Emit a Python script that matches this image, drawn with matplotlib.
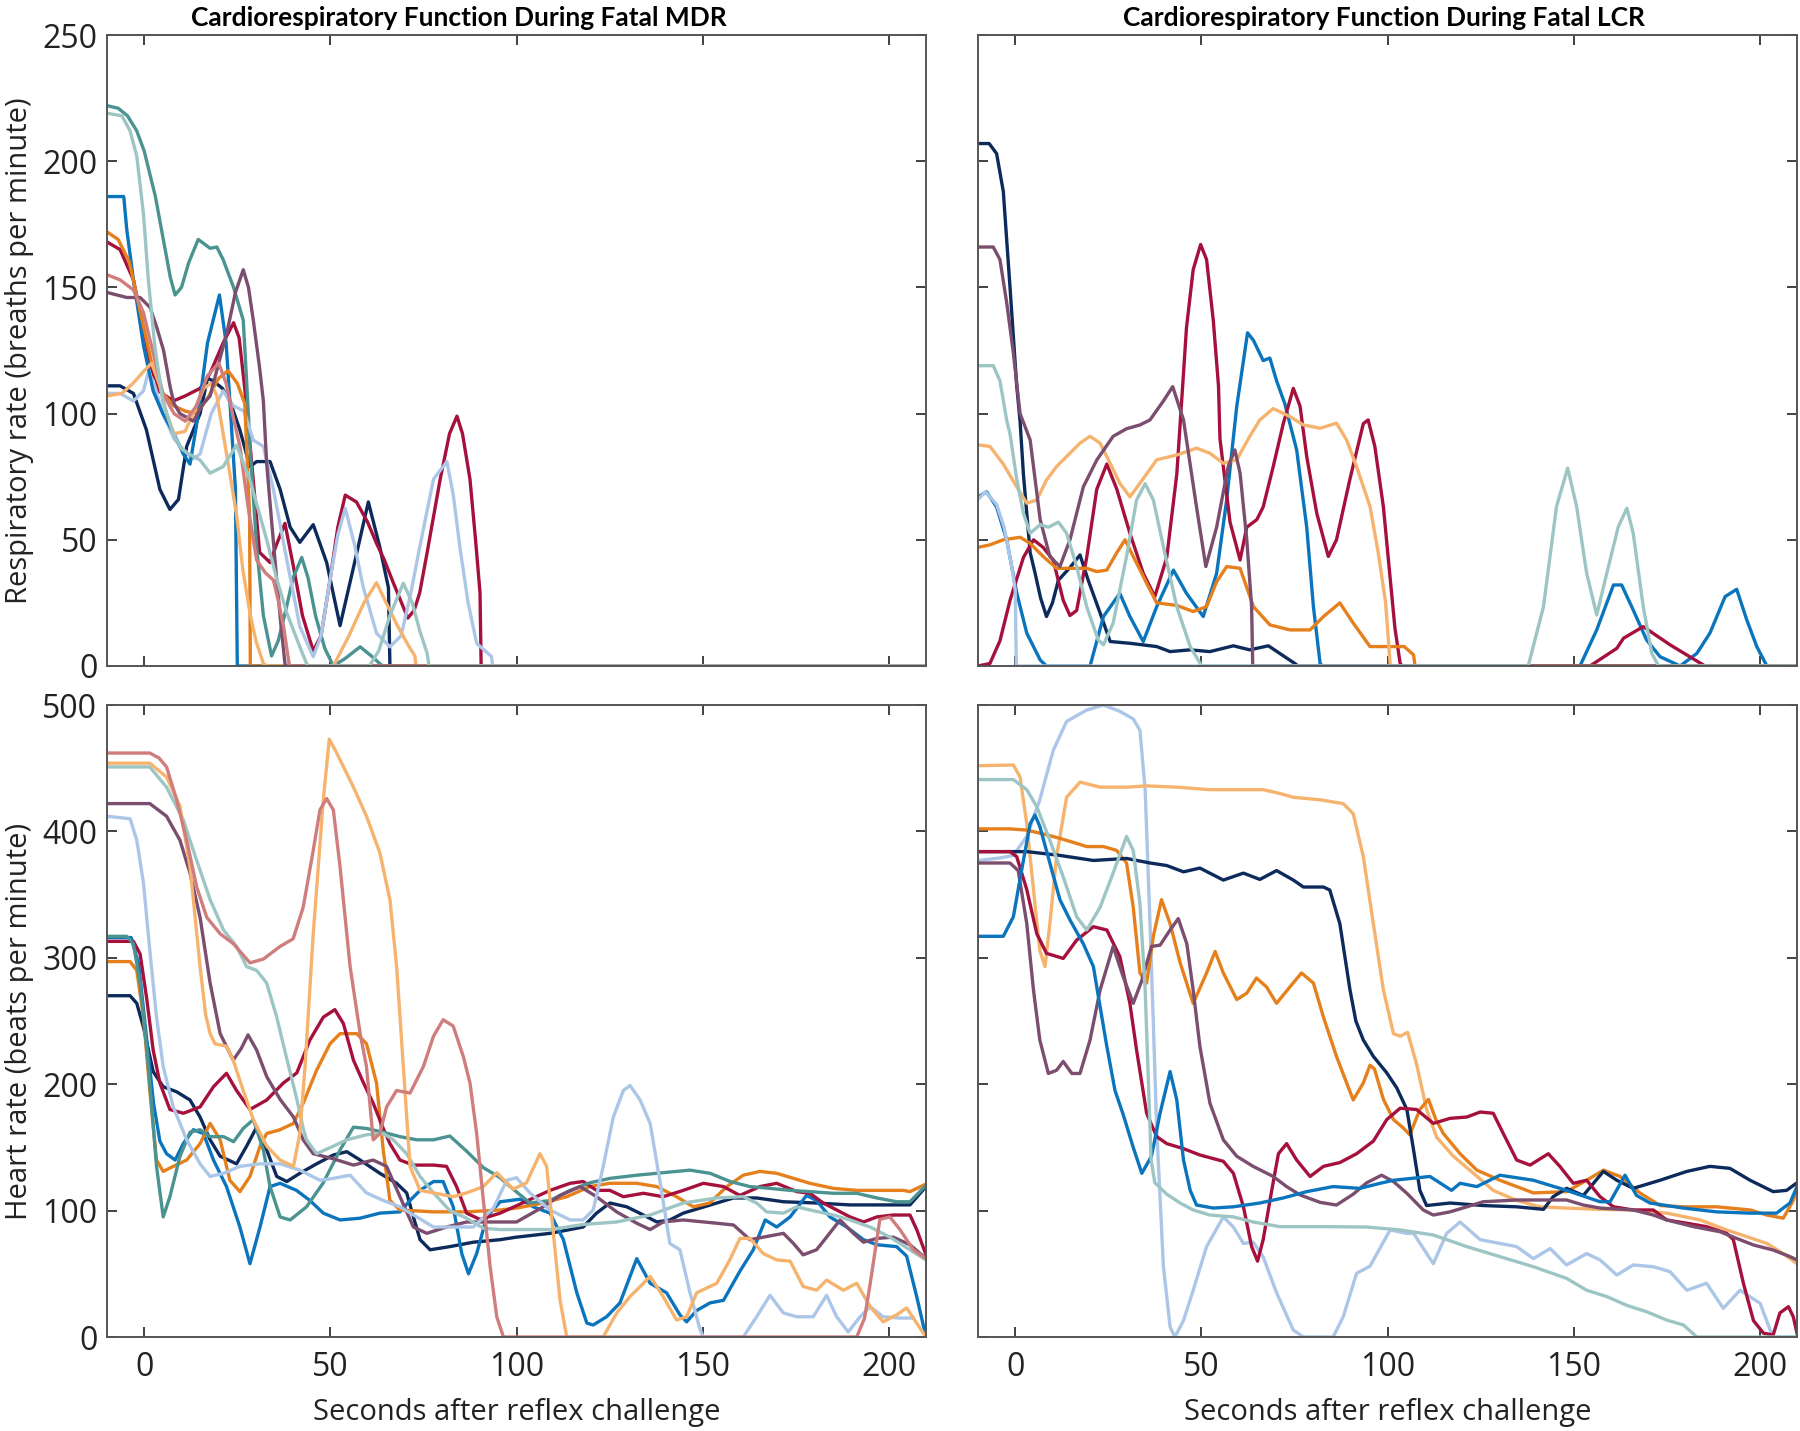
import matplotlib
matplotlib.use('Agg')
import matplotlib.pyplot as plt

plt.rcParams['font.family'] = ['Open Sans', 'DejaVu Sans']

## colours
NAVY = '#0c2a5b'
BLUE = '#0a75bd'
ORANGE = '#e5801c'
LTORANGE = '#f6b36e'
CRIMSON = '#a6103c'
MAUVE = '#7b4d6e'
TEAL = '#4a9391'
LTTEAL = '#9cc5c4'
LTBLUE = '#acc6e7'
ROSE = '#cf7d7d'

## MDR - respiratory rate (seconds, breaths/min)
mdr_rr_navy = [(-10,111),(-6.5,111),(-2.9,108),(0.6,93.5),(4.2,70),(6.9,62),(9.2,66),(11.4,87),(15,100),(17,114),(18.5,113),(21,110),(23,105),(25.7,93.5),(28.4,79),(30.2,81),(33.8,81),(36.5,70),(39.2,55),(41.8,49),(45.4,56),(49,41),(52.6,16),(56.2,39),(60.2,65),(63.3,47),(65.6,31),(66,0),(210,0)]
mdr_rr_crimson = [(-10,168),(-6.5,165),(-2.9,153),(-0.7,137),(1.6,120),(3.8,109),(7.8,105),(11,107),(15,110),(17.7,116),(21.2,128),(24,136),(25.5,130),(27,110),(28.9,80),(31,45),(33.8,41),(35.5,48),(37.8,56.5),(40,40),(42.5,20),(45.4,6),(47.5,12),(50,35),(52,55),(54,67.7),(57,65),(60,57),(62.4,48.6),(64.5,42),(66.9,33),(70.8,19),(72.5,22),(74,29),(76,45),(79.5,74),(82,92),(84,99),(85.5,92),(87.5,74),(89,50),(90.2,29),(90.5,0),(210,0)]
mdr_rr_teal = [(-10,222),(-7,221),(-4.5,218),(-2,212),(0,204),(3,186),(5,170),(7,154),(8.3,147),(10,150),(12,160),(14.5,169),(17.7,165.5),(19.5,166),(21.2,161),(24,150),(26.6,137),(27.5,113),(28.5,85),(30.2,47),(32,20),(34.2,4),(36,10),(38,22),(40,35),(42.3,43),(44,35),(46,20),(48.5,7),(50.8,0),(54,3),(58,7.6),(61,4),(64,0),(210,0)]
mdr_rr_ltblue = [(-10,108),(-6.5,108),(-2.9,105),(-0.2,109),(1,116),(2.4,113),(5,100),(8,90),(11,85),(13,82),(15,84),(18,100),(21.2,109),(24,103),(26.8,101),(29.3,89.5),(32,87),(34.7,70),(38.3,42),(41.8,15.6),(45.4,3.7),(47.5,12),(50,35),(52,52),(54,62.5),(56.5,48),(58.8,31.4),(62.4,13),(66,7.6),(69,12),(71.5,28),(74,47),(77.7,74),(81.3,81),(83,68),(84.8,47),(87,25),(89.3,9),(93.3,3.7),(93.6,0),(210,0)]
mdr_rr_blue = [(-10,186),(-5.5,186),(-4.7,173),(-2.9,153),(-0.2,127),(2.4,109),(5,100),(8,92),(10.5,84),(12.3,80),(14,95),(17,128),(20.2,147),(22,128),(23,105),(24.5,70),(25,0),(210,0)]
mdr_rr_orange = [(-10,172),(-7,169),(-4,160),(-1,140),(2,120),(5,108),(8,103),(11,101),(14,100),(17,106),(20,114),(22.5,117),(25,112),(27,104),(28.3,60),(28.5,0),(210,0)]
mdr_rr_ltorange = [(-10,107),(-6,108),(-3,112),(0,117),(2,120),(4,112),(6,100),(8,92),(11,93),(14,103),(16,110),(18,112),(19.5,107),(22,85),(24.8,60),(26.5,38),(28.4,21),(30,10),(32,1),(33,0),(50.8,0),(55,12),(59,25),(62.4,33),(65,25),(68,16),(71,8),(72.7,4),(73,0),(210,0)]
mdr_rr_mauve = [(-10,148),(-4.7,146),(-1.1,146),(1.6,142),(3.4,134),(5.2,125),(6.9,111),(8,104),(9.6,100),(13.2,97),(15.9,104),(17.7,107),(20,120),(22.2,132),(24.5,148),(26.6,157),(28,150),(29.3,137),(31,118),(32,105),(32.9,80),(34.3,56),(35.6,34),(36.8,15),(37.8,1),(38,0),(210,0)]
mdr_rr_rose = [(-10,155),(-6.5,153),(-2.9,149),(-0.2,140),(2.4,124),(5,108),(8,100),(11,97),(14,103),(17,115),(20,120),(22,112),(24,98),(25.7,87),(28,62),(30.2,42),(32.5,37),(34.7,34),(36,26),(37.5,15),(39,0),(210,0)]
mdr_rr_ltteal = [(-10,219),(-6,218),(-3.8,212),(-2,202),(-0.2,179),(1.1,153),(2.9,126),(5,105),(7.8,92),(10,86),(12,84),(15,81.6),(17.7,76.4),(21.2,79),(24.8,87.5),(28.4,73.7),(32.9,50),(35.5,35),(38.3,21),(41.8,7.6),(43.6,1),(44,0),(60.5,0),(63,6),(66,20),(69.6,32.8),(72,25),(74,14),(76,5),(76.5,0),(210,0)]

## LCR - respiratory rate
lcr_rr_navy = [(-10,207),(-7,207),(-5,203),(-3.2,188),(-1.4,150),(0.4,111),(1.3,97),(2.2,76),(4,45),(5.3,37),(6.8,27),(8.4,19.6),(10,25),(11.6,34),(14.7,39),(17.4,44),(19.6,34),(22.8,21),(25.5,9.7),(30.8,9),(38,7.7),(41.6,5.7),(47,6.4),(52.3,5.7),(58.6,8),(63,6.4),(68,8),(75.1,1),(76,0),(210,0)]
lcr_rr_blue = [(-10,67),(-7.7,69),(-5,63),(-2.3,50),(0.4,29),(3.1,13),(6.7,2.4),(8.4,0),(20.1,0),(23.7,19.6),(28.1,28.8),(30.8,19.6),(34.4,9.7),(38,23.5),(42.5,38),(46,28.8),(50.5,19.6),(54.1,36.7),(56.8,65.8),(59.5,102.8),(62.4,132),(64,129),(66.6,121),(68.4,122),(70.2,113),(72.4,104),(75.6,85.6),(78.3,55),(80.1,23.5),(81.9,1),(82.5,0),(151.7,0),(156.2,14.3),(160.7,32.1),(162.9,32.1),(166,22.2),(169.6,10.3),(173.2,3.7),(178.6,0),(183.1,5),(186.6,13),(190.7,27.5),(193.8,30.4),(196.5,18.3),(199.2,7.7),(201.9,0),(210,0)]
lcr_rr_crimson = [(-10,0),(-6.8,1),(-4.1,10),(-1.4,26),(2.2,43),(4.9,50),(7.5,47),(10.2,42),(12.9,26),(14.7,20),(16.5,22),(19.2,43),(21.9,70),(24.6,80),(27.3,70),(30.8,52.6),(34.4,36.7),(37.5,27.5),(40.7,43),(43.4,76),(45.2,116),(46,134),(47.8,157),(49.8,167),(51.4,161),(53.2,137),(54.6,111),(55,90),(57.7,57),(60.4,42),(62.2,55),(64.9,58),(66.6,63),(69.3,79),(72,96),(74.7,110),(76.5,103),(78.3,83),(81,60.5),(84.1,43.4),(86.3,50),(89.9,74),(93.5,96),(94.8,97.5),(96.6,87),(98.9,63),(100.7,35),(102,15),(103.4,1),(104,0),(154.4,0),(161.6,7),(163.4,11),(168.7,15.6),(175.9,8.4),(185.3,0),(210,0)]
lcr_rr_orange = [(-10,47),(-6.8,48),(-3.2,50),(1.3,51),(4,48.6),(7.5,43.4),(11.1,38.7),(14.7,38.7),(19.2,38.7),(21.9,37.4),(24.6,38),(27.2,44.7),(29.5,50),(31.7,43.4),(35.3,32.8),(38,25),(43.4,24),(47.8,21.6),(51.4,23.5),(54.1,33.4),(56.8,39.4),(60.4,38.7),(64,23.5),(68.4,16.3),(73.8,14.3),(79.2,14.3),(82.8,19.6),(87.2,25),(90.8,17),(95.3,7.7),(100.7,7.7),(104.5,7.7),(107,4.4),(107.4,0),(210,0)]
lcr_rr_ltorange = [(-10,87.6),(-6.8,87),(-3.2,80),(0.4,71),(3.1,64.5),(5.8,65.8),(8.4,73.7),(11.1,79),(13.8,83),(17.4,88.3),(20.1,91),(22.8,88.3),(25.5,80.3),(28.1,72.4),(30.8,67),(33.5,72.4),(38,81.7),(43.4,83.6),(48.7,86.3),(52.3,84.3),(55.9,80.3),(59.5,81.7),(63,91),(65.7,97.5),(69.3,102),(73.8,98.8),(77.4,95.5),(81.9,94.2),(86.3,96.2),(89,89.6),(91.7,79),(95.3,63.2),(97.5,45),(99.5,25),(100.7,1),(101,0),(210,0)]
lcr_rr_ltblue = [(-10,66),(-8,69),(-5,64),(-3,55),(-1,40),(0,30),(0.3,0),(135,0)]
lcr_rr_mauve = [(-10,166),(-5.9,166),(-4.1,161),(-2.3,144),(-0.5,124),(1.3,100),(4,89.6),(6.7,58),(9.3,43.4),(12,39.4),(14.7,50),(18.3,71),(21.9,81.6),(26.3,91),(29.9,94),(33.5,95.5),(36.2,97.5),(39.8,105),(42.3,110.7),(45.2,97.5),(48.7,63),(51.2,39.4),(54.1,55),(57.2,79),(59,85.6),(60.4,76.4),(62.2,50),(63.5,23.5),(63.8,0),(210,0)]
lcr_rr_ltteal = [(-10,119),(-5.9,119),(-4.1,113),(-2.3,97.4),(-1.4,92),(0.4,74),(2.2,60.5),(4,52.6),(6.7,56),(8.9,55),(11.6,57),(13.8,52.6),(16.5,39.4),(19.2,23.5),(22.3,10.3),(23.7,8.4),(26.3,17),(29.9,43.4),(32.6,65.8),(34.9,72.2),(37.1,65.8),(39.8,47.3),(43.4,23.5),(47,7.7),(50.1,0),(137.8,0),(141.9,23.5),(145.4,63.2),(148.4,78.4),(150.8,63.2),(153.5,36.7),(156.2,20.2),(158.9,36.7),(162,55.2),(164.3,62.5),(166,52.6),(168.7,23.5),(171,5),(172.8,0),(210,0)]

## MDR - heart rate (beats/min)
mdr_hr_navy = [(-10,270),(-3.8,270),(-2,264),(-0.2,245),(2.4,210),(5.1,198),(8.7,194),(12.3,187.5),(15,174),(17.7,156),(20.4,143),(24.8,137),(27.5,151),(30.2,166),(32.9,148),(35.6,127),(38.3,123),(41.8,129.5),(46.3,137),(50.8,144),(54.4,146.6),(58,140),(63.3,129.5),(67.8,121.6),(70.5,114),(72.3,95),(74.1,77),(76.8,69),(82.1,71.5),(88.4,75),(95.6,77),(100,79),(109,82),(117.9,87),(121.5,98),(125.1,106),(129.6,103),(134.1,96.5),(137.7,91),(141.2,92.6),(144.8,98),(149.3,102),(153.8,106),(158.3,110),(164.5,110),(171.7,107),(180.6,106),(189.6,104.5),(198.5,104.5),(205.7,104.5),(210,119)]
mdr_hr_blue = [(-10,316),(-3.5,316),(-1.5,295),(0.5,240),(2.5,185),(4.2,155),(6,145),(8.3,140),(10.5,153),(13.2,164),(15.9,161),(18.6,140),(22.1,119),(25.7,87),(28.4,58),(31.1,87),(33.8,119),(36.5,121.6),(40.9,116),(44.5,108),(48.1,98),(52.6,92.6),(58,94),(63.3,98),(68.7,99),(71.4,108),(74.1,116),(77.7,123),(80.3,123),(83,103),(85.3,66),(87.1,50),(89.3,66),(92,95),(95.6,107),(101,109),(104.5,103),(109,98),(112.6,77),(116.2,35),(118.9,11),(120.6,9.5),(124.2,16),(127.8,27),(132.3,62),(135.9,42.5),(140.3,35),(143.9,17.5),(145.7,12),(148.4,21),(152,27),(155.6,29),(160,52),(163.6,69),(166.8,92.6),(169.9,87),(173.5,95),(177.9,112),(180.6,108),(184.2,95),(188.7,87),(193.2,77),(196.8,73),(202.1,71.5),(204.8,64),(207.5,32),(210,0)]
mdr_hr_orange = [(-10,297),(-3.8,297),(-2,290),(-0.2,253),(1.5,195),(3.3,140),(5.1,131),(7.8,135),(11.4,140),(15,153),(17.7,169),(20.4,156),(23,124),(25.7,115),(28.4,127),(31.1,151),(32.9,161),(36.5,164),(40.1,169),(42.7,185),(46.3,211),(49.9,232),(52.6,240),(57.1,240),(59.7,232),(62.4,201),(64.2,148),(66,108),(68.7,100.5),(77.7,99),(86.6,99),(95.6,100.5),(100,102),(107.2,106),(113.5,111),(119.7,119),(125.1,121.6),(132.3,121.6),(137.7,119),(143,111),(147.5,103),(151.9,106),(156.5,119),(160.9,128),(165.4,131),(169.9,129.5),(174.4,125.5),(178.8,121.6),(185.1,117.6),(191.4,116),(198.5,116),(203.9,116),(205.7,115),(210,121)]
mdr_hr_crimson = [(-10,313),(-2.9,313),(-1.1,303),(0.7,267),(2.4,227),(4.2,201),(6.9,180),(10.5,177),(15,182),(18.6,198),(22.1,208.6),(24.8,195),(28.4,180),(32.9,187.5),(37.4,201),(41,209),(44.5,235),(48.1,253),(51.2,259),(53.5,248),(56.2,219),(58.9,201),(61.5,185),(64.2,165),(66,153),(68.7,140),(72.3,136),(77.7,136),(81.2,135),(83.9,119),(86.6,98),(90.2,93),(95.6,98),(101.6,106),(109,116),(114.4,121.6),(117.9,123),(121.5,116),(125.1,116),(128.7,111),(134.1,113.7),(139.4,111),(144.8,116),(150.2,121.6),(155.6,119),(160,112),(165.4,119),(169.9,121.6),(175.3,115),(178.8,113.7),(182.4,106),(186,100.5),(189.6,95),(193.2,91),(196.8,95),(201.2,96.5),(205.7,96.5),(207.5,85),(210,65)]
mdr_hr_teal = [(-10,317),(-4.7,317),(-2.9,311),(-1.1,280),(0.7,227),(1.5,200),(3.3,135),(5.1,95),(6.9,111),(9.6,143),(12.3,162),(15,164),(17.7,158.5),(21.3,158.5),(24,154.5),(26.6,165),(29.3,172),(32,148),(33.8,119),(36.5,95),(39.2,92.6),(43.6,103),(48.1,122),(52.6,148),(56.2,166),(59.7,165),(64.2,162),(68.7,158.5),(73.2,156),(77.7,156),(82.1,159),(86.6,147),(91.1,134),(95.6,126),(98.3,119),(103.6,106),(109,108),(114.4,116),(119.7,122),(125.1,125.5),(132.3,128),(139.4,130),(146.6,132),(152,129.5),(157.4,123),(162.7,119),(168.1,117.6),(173.5,116),(178.8,115),(185.1,113.7),(191.4,113.7),(196.8,110),(202.1,107),(205.7,107),(210,120)]
mdr_hr_mauve = [(-10,422),(1.5,422),(6,412),(9.6,393),(12.3,367),(15,332),(17.7,280),(20.4,240),(23.9,219),(26,228),(27.9,239),(30.2,227),(32.9,206),(36.5,188),(40.1,174),(42.7,156),(45.4,145),(50.8,141),(56.2,136),(61.5,140),(65.1,135),(68.7,111),(72.3,87),(75.9,82),(81.2,87),(86.6,91),(92,91),(100,91),(107.2,103),(111.7,112),(117.1,119),(121.5,111),(126.9,99),(132.3,90),(135.9,85),(139.4,91),(144.8,92.6),(153.8,90),(158.3,88.6),(162.7,77),(166.3,79),(171.7,82),(174.4,74),(177,65),(180.6,69),(183.3,79),(186.9,92.6),(190.5,82),(193.2,75),(196.8,78),(201.2,79),(205.7,73),(210,62)]
mdr_hr_ltteal = [(-10,451),(1.5,451),(6,435),(10.5,409),(14.1,377),(17.7,346),(21.3,322),(24.8,309),(27.5,293),(30.2,290),(32.9,280),(35.6,253),(38.3,220),(41,188),(42.7,165),(43.6,156),(46.3,145),(50.8,151),(54.4,156),(59.7,160),(64.2,161),(66.9,156),(70.5,145),(74.1,127),(77.7,114),(82.1,100),(86.6,94),(91.1,86),(95.6,85),(100,85),(109,85),(117.9,89),(126.9,91),(135.9,96.5),(144.8,106),(153.8,110),(160.9,111),(164.5,106),(167.2,99),(171.7,98),(175.3,103),(178.8,100.5),(185.1,96.5),(189.6,92.6),(195,87),(200.3,79),(205.7,69),(210,61)]
mdr_hr_ltblue = [(-10,412),(-3.8,410),(-2,393),(-0.2,359),(1.5,306),(3.3,253),(5.1,214),(7.8,182),(11.4,156),(15,137),(17.7,127),(21.3,129.5),(25.7,135),(31.1,137),(36.5,137),(41.8,132),(47.2,124),(50.8,125.5),(55.3,128),(59.7,114),(64.2,108),(68.7,103),(73.2,95),(77.7,87),(83,87),(88.4,87),(93.8,102),(97.4,124),(100,126),(103.6,114),(109,100.5),(114.4,92.6),(117.9,92.6),(120.6,100.5),(123.3,135),(126,174),(128.7,195),(130.5,199),(133.2,187.5),(135.9,169),(138.6,122),(141.2,74),(143.9,69),(146.6,35),(149.3,6),(150.2,0),(160.9,0),(164.5,16),(168.1,33),(171.7,19),(175.3,16),(179.7,16),(183.3,33),(186,16),(189.1,4),(192.3,16),(195,24),(198.5,16),(203,15),(206.6,15)]
mdr_hr_ltorange = [(-10,454),(1.5,454),(6,443),(9.6,420),(12.3,372),(15,293),(16.5,255),(17.7,240),(19,232),(22.1,230),(23.9,219),(26.6,195),(29.3,172),(32.9,151),(36.5,140),(40.1,135),(41.8,161),(43.2,214),(45.4,319),(48.1,425),(49.7,473),(51.7,462),(56.2,435),(59.7,412),(63.3,383),(66,346),(67.8,293),(69.6,214),(71.4,135),(74.1,116),(77.7,114),(83,111),(86.6,114),(91.1,119),(94.7,130),(99.1,117),(102.7,122),(106.3,145),(108.1,135),(109.9,82),(111.7,29),(113.5,0),(123.3,0),(126.9,19),(130.5,32),(134.1,42.5),(135.9,48),(139.4,32),(143,13.5),(145.7,16),(148.4,35),(153.8,42.5),(157.3,61),(160,78),(162.7,78),(166.3,66),(169.9,61),(173.5,60),(177,40),(180.6,37),(183.3,45),(187.8,37),(191.4,42.5),(195,24),(198.5,12),(202.1,17.5),(204.8,23),(207.5,11),(210,0)]
mdr_hr_rose = [(-10,462),(1.5,462),(4,458),(6,451),(8.7,425),(11.4,393),(14.1,356),(16.8,332),(20.4,319),(24,311),(28.4,296),(32,299),(36.5,309),(40,315),(42.7,340),(45.4,385),(47.2,417),(49,426),(50.8,417),(52.6,372),(55.3,293),(58,240),(59.7,214),(61.5,156),(63.3,161),(65.1,182),(67.8,195),(71.4,193),(75,214),(77.7,238),(80.3,251),(83,246),(85.7,222),(87.5,201),(89.3,161),(91.1,108),(92.9,56),(94.7,16),(96.5,0),(191.4,0),(193.5,15),(195,42),(197.6,93),(200.3,95),(203,85),(206.6,69),(210,62)]

## LCR - heart rate
lcr_hr_ltblue = [(-10,377),(-4.1,379),(-0.5,381),(3.1,396),(6.6,425),(10.2,464),(13.8,487),(19.2,496),(23.7,500),(28.1,495),(31.7,489),(33.5,480),(34.9,433),(36.2,327),(37.1,248),(38,165),(39.8,56),(41.6,8),(42.9,0),(45.2,13),(47.8,37),(51.4,71.5),(55.9,95),(58.6,87),(61.3,74),(63.9,75),(66.6,63.5),(70.2,35),(74.7,5.5),(77.4,0),(85.4,0),(88.1,16),(91.7,50.4),(95.3,56),(100.7,84.7),(105.2,82),(107,82),(112.3,58),(115.9,82),(119.5,91),(124.9,77),(130.2,74),(134.7,71.5),(139.2,62),(143.7,70),(148.1,57),(153.5,66),(157.1,61),(161.6,49),(166,57),(171.4,55.6),(175.9,51.7),(180.4,37),(185.7,42.5),(190.2,22.7),(194.7,37),(200.1,26.6),(202.8,5.5),(203.6,0),(210,0)]
lcr_hr_ltorange = [(-10,452),(-0.5,452.5),(1.3,443),(3.1,406),(4.9,354),(6.6,306),(8,293),(9.3,327),(11.1,380),(13.8,427),(17.4,439),(22.8,435),(29.9,435),(35.3,436),(43.4,435),(52.3,433),(61.3,433),(66.6,433),(71.1,430),(74.7,427),(81.9,425),(88.1,422),(90.8,414),(93.5,380),(96.2,327),(98.9,274.5),(101.6,240),(103.4,238),(105.4,241),(107.8,216),(110.5,180),(113.2,158),(117.7,143),(123.1,129.5),(128.4,116),(134.7,108),(141,103),(148.1,102),(157.1,101),(166,100.5),(175,98),(184,92.6),(191.1,84.7),(196.5,79.4),(201.9,74),(206.3,66),(210,58)]
lcr_hr_orange = [(-10,402),(-1.4,402),(3.1,401),(7.5,398),(12,394.5),(16.5,390.5),(19.2,388),(23.7,388),(27.2,385),(29.9,375),(31.7,340),(33.5,288),(35.3,280),(37.1,317),(39.3,346),(41.6,327),(44.3,296),(47.8,264),(51.4,288),(53.7,305),(55.9,288),(59.5,267),(62.2,272),(64.8,284),(67.5,277),(70.2,264),(73.8,277),(76.9,288),(80.1,280),(82.8,253),(86.3,222),(88.5,205),(90.8,187.5),(93.5,201),(95.3,215),(96.5,212),(98.9,188),(101.6,172),(104,166),(106,160),(108.7,180),(111,188),(113,172),(115,161),(119.5,145),(124,132),(130.2,124),(139.2,114),(148.1,115),(153.5,124),(158,132),(162.5,127),(167.8,114),(173.2,104),(179.5,103),(188.4,103),(197.4,100.5),(201.9,96.5),(206.3,94),(209,108),(210,119)]
lcr_hr_navy = [(-10,384),(3.1,384),(12,381),(21,377),(29.9,378.6),(36.2,375),(40.7,373),(45.2,368),(49.6,371),(55.9,361.5),(61.3,367),(65.7,362),(70.2,369),(74.7,361.5),(77.4,356),(82.8,356),(84.5,353.6),(87.2,327),(89.9,275),(91.5,250),(93.5,235),(96.2,222),(99.8,209),(102.5,197),(105.2,180),(107,148),(108.7,116),(110.5,104),(116.8,106),(125.7,104),(134.7,103),(141.9,101),(144.5,111),(148.1,117.6),(152.6,112),(158,131),(161.6,124),(166,117.6),(173.2,124),(180.4,131),(186.6,135),(192,133.4),(197.4,124),(203.6,115),(207.2,116),(210,122)]
lcr_hr_crimson = [(-10,384),(-1.4,384),(0.4,380),(3.1,354),(5.8,319),(8.4,303.5),(12.9,299.5),(16.5,314),(21,324.6),(24.6,322),(28.1,301),(30.8,264),(32.6,227),(35.3,177),(38,158.5),(40.7,153),(45.2,149),(49.6,144),(55.9,139),(58.6,129.5),(61.3,103),(63.5,71.5),(65.1,60),(66.6,77),(68.9,116),(70.7,145),(72.9,153),(75.6,140),(79.2,127),(82.8,135),(87.2,138),(91.7,145),(96.2,155),(99.8,172),(103.4,181),(107.8,180),(112.3,169),(116.8,173),(121.3,174),(124.9,178),(128.4,177),(131.1,161),(134.7,140),(138.3,136),(143.2,145),(146.3,135),(149.9,121.6),(153.5,124),(157.1,111),(160.7,103),(166,100.5),(171.4,100.5),(175,92.6),(180.4,90),(185.7,87.3),(191.1,82),(192.9,77),(195.6,42.5),(198.3,13),(201,3),(203.6,1.6),(205.4,19),(207.7,24),(209,16),(210,3)]
lcr_hr_mauve = [(-10,375),(-1.4,375),(0.8,369),(3.1,327),(4.9,274.5),(6.6,235),(8.9,208.5),(11.1,211),(12.9,218),(15.2,208.5),(17.4,208.5),(20.1,235),(22.8,274.5),(26.3,309),(29,285),(31.7,264),(34,282),(36.6,309),(38.9,310),(41.6,322),(43.8,331),(46.1,311),(47.8,274.5),(49.6,230),(52.3,185),(55.9,156),(59.5,143),(63.9,135),(69.3,127),(72.9,119),(76.5,112.4),(81.9,106.5),(86.3,104.4),(90.8,113),(94.4,122),(98.4,128),(101.6,123),(105.2,113.7),(109.6,100.5),(112.3,96.5),(116.8,99),(121.3,103),(125.7,107),(134.7,108.4),(143.7,108.4),(148.1,108.4),(152.6,104.4),(157.1,102),(166,100.5),(171.4,96.5),(175,92.6),(182.2,87.3),(189.3,83.3),(193.8,78),(198.3,72.8),(203.6,68.8),(208.1,63.6),(210,61)]
lcr_hr_blue = [(-10,317),(-3.2,317),(-0.5,332.5),(1.7,369),(4,406),(5.3,413),(6.6,404),(9.3,375),(12,346),(14.7,330),(18.3,311),(21,293),(22.3,270),(24.6,230),(26.8,195),(29,176),(31.7,150),(34,129.5),(36.6,143),(38.9,177),(41.6,210),(43.4,187.5),(45.2,140),(47,116),(48.7,104.4),(53.2,102),(58.6,103),(65.7,106),(72,110),(78.3,115),(85.4,119),(92.6,117.6),(98,121.6),(101.6,124),(111.4,127),(117.2,116),(119.5,121.6),(124,119),(130.2,128),(139.2,124),(148.1,116),(157.1,107),(159.8,107),(163.8,128),(166.9,112),(170.5,106),(179.5,102),(188.4,99),(197.4,98),(204.5,98),(208.1,106),(210,119)]
lcr_hr_ltteal = [(-10,441),(-0.5,441),(3.1,433),(5.8,419.5),(9.3,393),(12.9,364),(16.5,332.5),(19.2,322),(22.8,340),(26.3,367),(29.9,396),(31.7,385),(33.5,343),(34.9,275),(35.8,200),(36.5,140),(37.5,122),(40.7,113),(44.3,106),(47.8,100.5),(52.3,96.5),(58.6,95),(63.9,91),(71.1,87.3),(83.6,87.3),(94.4,87),(103.4,84.7),(112.3,80.7),(121.3,71.5),(130.2,63.6),(139.2,55.6),(148.1,46.4),(153.5,37),(158.9,32),(164.3,25),(169.6,20),(175,13.4),(179.5,9.5),(183.1,0),(210,0)]

## draw order, bottom to top
panels = [
    [(mdr_rr_navy, NAVY), (mdr_rr_crimson, CRIMSON), (mdr_rr_teal, TEAL), (mdr_rr_ltblue, LTBLUE),
     (mdr_rr_blue, BLUE), (mdr_rr_orange, ORANGE), (mdr_rr_ltorange, LTORANGE), (mdr_rr_mauve, MAUVE),
     (mdr_rr_rose, ROSE), (mdr_rr_ltteal, LTTEAL)],
    [(lcr_rr_navy, NAVY), (lcr_rr_blue, BLUE), (lcr_rr_crimson, CRIMSON), (lcr_rr_orange, ORANGE),
     (lcr_rr_ltorange, LTORANGE), (lcr_rr_ltblue, LTBLUE), (lcr_rr_mauve, MAUVE), (lcr_rr_ltteal, LTTEAL)],
    [(mdr_hr_navy, NAVY), (mdr_hr_blue, BLUE), (mdr_hr_orange, ORANGE), (mdr_hr_crimson, CRIMSON),
     (mdr_hr_teal, TEAL), (mdr_hr_mauve, MAUVE), (mdr_hr_ltteal, LTTEAL), (mdr_hr_ltblue, LTBLUE),
     (mdr_hr_ltorange, LTORANGE), (mdr_hr_rose, ROSE)],
    [(lcr_hr_ltblue, LTBLUE), (lcr_hr_ltorange, LTORANGE), (lcr_hr_orange, ORANGE), (lcr_hr_navy, NAVY),
     (lcr_hr_crimson, CRIMSON), (lcr_hr_mauve, MAUVE), (lcr_hr_blue, BLUE), (lcr_hr_ltteal, LTTEAL)],
]

fig = plt.figure(figsize=(18, 14.31), dpi=100)
W, H = 1800.0, 1431.0
boxes = [(107, 35, 926, 666), (978, 35, 1797, 666), (107, 705, 926, 1337), (978, 705, 1797, 1337)]
axes = []
for (l, t, r, b) in boxes:
    axes.append(fig.add_axes([l / W, 1 - b / H, (r - l) / W, (b - t) / H]))

for i, ax in enumerate(axes):
    for pts, col in panels[i]:
        xs, ys = zip(*pts)
        ax.plot(xs, ys, color=col, lw=2.4, solid_joinstyle='round')
    ax.set_xlim(-10, 210)
    ax.set_xticks([0, 50, 100, 150, 200])
    if i < 2:
        ax.set_ylim(0, 250)
        ax.set_yticks([0, 50, 100, 150, 200, 250])
    else:
        ax.set_ylim(0, 500)
        ax.set_yticks([0, 100, 200, 300, 400, 500])
    ax.tick_params(direction='in', length=7, width=1.3, colors='#333333',
                   top=True, right=True, labelsize=23, labelcolor='#222222', pad=7)
    ax.tick_params(axis='x', pad=10)
    for s in ax.spines.values():
        s.set_color('#555555')
        s.set_linewidth(1.4)
    if i < 2:
        ax.tick_params(labelbottom=False)
    if i % 2 == 1:
        ax.tick_params(labelleft=False)

# titles are centred over the whole column (label + axes), as in the source figure
fig.text(459 / W, 1 - 18 / H, 'Cardiorespiratory Function During Fatal MDR', fontsize=19,
         fontweight='bold', family=['Lato', 'DejaVu Sans'], ha='center', va='center')
fig.text(1384 / W, 1 - 18 / H, 'Cardiorespiratory Function During Fatal LCR', fontsize=19,
         fontweight='bold', family=['Lato', 'DejaVu Sans'], ha='center', va='center')
axes[0].set_ylabel('Respiratory rate (breaths per minute)', fontsize=21, color='#222222', labelpad=6)
axes[2].set_ylabel('Heart rate (beats per minute)', fontsize=21, color='#222222', labelpad=6)
axes[2].set_xlabel('Seconds after reflex challenge', fontsize=21, color='#222222', labelpad=10)
axes[3].set_xlabel('Seconds after reflex challenge', fontsize=21, color='#222222', labelpad=10)

plt.savefig('out.png', dpi=100)
